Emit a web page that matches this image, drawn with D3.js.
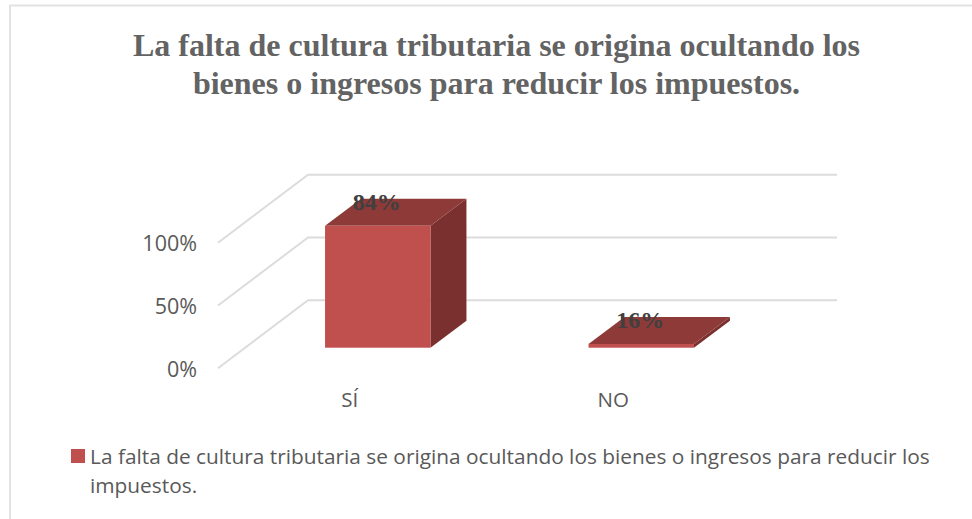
<!DOCTYPE html>
<html>
<head>
<meta charset="utf-8">
<script src="https://cdn.jsdelivr.net/npm/d3@7"></script>
<style>
  html, body { margin: 0; padding: 0; background: #fff; }
  svg { display: block; }
  .label { font-family: "Open Sans", sans-serif; fill: #595959; }
  .serif { font-family: "Liberation Serif", serif; font-weight: bold; }
</style>
</head>
<body>
<svg></svg>
<script>
// Data
const categories = ["SÍ", "NO"];
const barHeights = [97, 3];            // drawn height on the axis
const dataLabels = ["84%", "16%"];     // printed labels (differ from drawn height)
const axisTicks = [0, 50, 100];
const titleLines = [
    "La falta de cultura tributaria se origina ocultando los",
    "bienes o ingresos para reducir los impuestos."
];
const legendLines = [
    "La falta de cultura tributaria se origina ocultando los bienes o ingresos para reducir los",
    "impuestos."
];

const width = 972, height = 519;

const svg = d3.select("svg")
    .attr("width", width)
    .attr("height", height);

// Frame
svg.append("path")
    .attr("d", "M10,519V5.5H972")
    .attr("fill", "none")
    .attr("stroke", "#e2e2e2")
    .attr("stroke-width", 2);

// Title
svg.append("g").selectAll("text")
    .data(titleLines)
    .join("text")
    .attr("class", "serif")
    .attr("x", 496.5)
    .attr("y", (d, i) => 56 + i * 38)
    .attr("text-anchor", "middle")
    .attr("font-size", 32)
    .attr("fill", "#636363")
    .text(d => d);

// Scales, on the front plane of the 3D box
const frontLeft = 218, wallRight = 837, frontBottom = 368.3;
const wallDx = 90, wallDy = 68;       // depth of the box
const barShiftX = 28, barShiftY = 20.6; // bars stand inside the floor
const barDx = 36, barDy = 27;         // depth of one bar

const x = d3.scaleBand()
    .domain(categories)
    .range([frontLeft, 745])
    .paddingInner(0.6)
    .paddingOuter(0.3);

const y = d3.scaleLinear()
    .domain([0, 100])
    .range([frontBottom, frontBottom - 125.6]);

// Gridlines: one slanted floor/side line, one along the back wall
const grid = svg.append("g")
    .attr("fill", "none")
    .attr("stroke", "#dcdcdc")
    .attr("stroke-width", 2);

grid.selectAll("path")
    .data(axisTicks)
    .join("path")
    .attr("d", d => {
        const p = d3.path();
        p.moveTo(frontLeft, y(d));
        p.lineTo(frontLeft + wallDx, y(d) - wallDy);
        p.lineTo(wallRight, y(d) - wallDy);
        return p.toString();
    });

// Value axis
const yAxis = svg.append("g")
    .attr("transform", "translate(205,0)")
    .call(d3.axisLeft(y)
        .tickValues(axisTicks)
        .tickSize(0)
        .tickPadding(8)
        .tickFormat(d => d + "%"));
yAxis.select(".domain").remove();
yAxis.selectAll("text")
    .attr("class", "label")
    .attr("font-size", 21.5)
    .attr("fill", "#595959")
    .attr("dy", "0.36em");

// Bars
const bars = svg.append("g").selectAll("g")
    .data(categories.map((c, i) => ({ c: c, v: barHeights[i], label: dataLabels[i] })))
    .join("g")
    .attr("transform", `translate(${barShiftX},${-barShiftY})`);

const bw = x.bandwidth();

bars.append("path") // side
    .attr("fill", "#7a302e")
    .attr("d", d => {
        const r = x(d.c) + bw;
        return d3.line()([[r, y(d.v)], [r + barDx, y(d.v) - barDy], [r + barDx, y(0) - barDy], [r, y(0)]]) + "Z";
    });

bars.append("path") // top
    .attr("fill", "#8e3a38")
    .attr("d", d => {
        const l = x(d.c);
        return d3.line()([[l, y(d.v)], [l + barDx, y(d.v) - barDy], [l + bw + barDx, y(d.v) - barDy], [l + bw, y(d.v)]]) + "Z";
    });

bars.append("rect") // front
    .attr("fill", "#c0504d")
    .attr("x", d => x(d.c))
    .attr("y", d => y(d.v))
    .attr("width", bw)
    .attr("height", d => y(0) - y(d.v));

bars.append("text")
    .attr("class", "serif")
    .attr("x", d => x(d.c) + bw / 2 - 1)
    .attr("y", d => y(d.v) - 16.3)
    .attr("text-anchor", "middle")
    .attr("font-size", 24)
    .attr("fill", "#404040")
    .text(d => d.label);

// Category labels
svg.append("g").selectAll("text")
    .data(categories)
    .join("text")
    .attr("class", "label")
    .attr("x", d => x(d) + bw / 2)
    .attr("y", 407)
    .attr("text-anchor", "middle")
    .attr("font-size", 20.5)
    .text(d => d);

// Legend
svg.append("rect")
    .attr("x", 71)
    .attr("y", 449)
    .attr("width", 14)
    .attr("height", 14)
    .attr("fill", "#c0504d");

svg.append("g").selectAll("text")
    .data(legendLines)
    .join("text")
    .attr("class", "label")
    .attr("x", 90)
    .attr("y", (d, i) => 464 + i * 28.7)
    .attr("font-size", 20.85)
    .text(d => d);
</script>
</body>
</html>
